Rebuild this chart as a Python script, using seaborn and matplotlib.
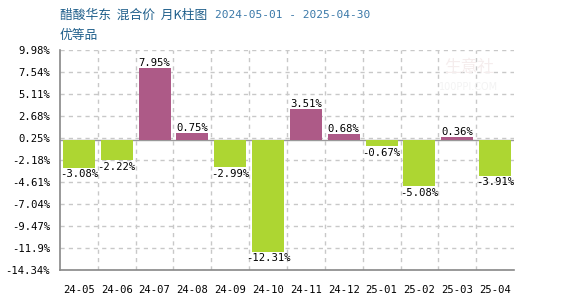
import matplotlib
matplotlib.use("Agg")
import matplotlib.pyplot as plt
import seaborn as sns
import numpy as np
from matplotlib.ticker import FixedLocator

months = ["24-05", "24-06", "24-07", "24-08", "24-09", "24-10",
          "24-11", "24-12", "25-01", "25-02", "25-03", "25-04"]
changes = [-3.08, -2.22, 7.95, 0.75, -2.99, -12.31,
           3.51, 0.68, -0.67, -5.08, 0.36, -3.91]
ytick_values = [9.98, 7.54, 5.11, 2.68, 0.25, -2.18, -4.61, -7.04, -9.47, -11.9, -14.34]
ytick_labels = ["9.98%", "7.54%", "5.11%", "2.68%", "0.25%", "-2.18%", "-4.61%",
                "-7.04%", "-9.47%", "-11.9%", "-14.34%"]
title_main = "醋酸华东  混合价  月K柱图"
title_dates = "2024-05-01 - 2025-04-30"
subtitle = "优等品"

POS = "#AD5A87"
NEG = "#ADD632"

sns.set_theme(style="white")
plt.rcParams['font.family'] = ['DejaVu Sans Mono', 'Noto Sans CJK SC']

fig = plt.figure(figsize=(5.7, 3.0), dpi=100)
ax = fig.add_axes([60/570, 30/300, (514-60)/570, 220/300])

colors = [POS if v >= 0 else NEG for v in changes]
sns.barplot(x=months, y=changes, hue=months, palette=colors, legend=False,
            width=0.85, ax=ax, saturation=1, zorder=3, linewidth=0, edgecolor="none")

ax.set_ylim(-14.34, 9.98)
ax.set_xlim(-0.5, 11.5)
ax.set_yticks(ytick_values)
ax.set_yticklabels(ytick_labels)
ax.xaxis.set_minor_locator(FixedLocator(np.arange(0.5, 11.0, 1.0)))

ax.grid(False)
ax.grid(which="major", axis="y", color="#c8c8c8", linestyle=(0, (3, 3)), linewidth=1, zorder=0)
ax.grid(which="minor", axis="x", color="#c8c8c8", linestyle=(0, (3, 3)), linewidth=1, zorder=0)
ax.set_axisbelow(True)

ax.axhline(0, color="#999999", linewidth=1, zorder=2)

for s in ["top", "right"]:
    ax.spines[s].set_visible(False)
for s in ["left", "bottom"]:
    ax.spines[s].set_color("#888888")
    ax.spines[s].set_linewidth(1.2)

ax.tick_params(axis="both", which="both", length=0, labelsize=7.6, colors="black")
ax.tick_params(axis="y", pad=7)
ax.tick_params(axis="x", pad=11)
for lbl in ax.get_xticklabels() + ax.get_yticklabels():
    lbl.set_family("DejaVu Sans Mono")

for i, v in enumerate(changes):
    if v >= 0:
        ax.text(i, v, f"{v:.2f}%", ha="center", va="bottom", fontsize=7.6,
                family="DejaVu Sans Mono", color="black", zorder=4)
    else:
        ax.text(i, v - 0.15, f"{v:.2f}%", ha="center", va="top", fontsize=7.6,
                family="DejaVu Sans Mono", color="black", zorder=4)

# watermark
ax.text(0.9, 0.92, "生意社", transform=ax.transAxes, ha="center", va="center",
        fontsize=12, color="#f5eded", family="Noto Sans CJK SC", zorder=1)
ax.text(0.9, 0.83, "100PPI.COM", transform=ax.transAxes, ha="center", va="center",
        fontsize=7, color="#f3f3f3", family="DejaVu Sans", zorder=1)

t1 = fig.text(60/570, 1 - 15/300, title_main, ha="left", va="center",
              fontsize=9.2, color="#1f5f8b", family=["Noto Sans CJK SC", "DejaVu Sans"])
fig.canvas.draw()
bb = t1.get_window_extent()
fig.text((bb.x1 + 8) / 570, 1 - 15/300, title_dates, ha="left", va="center",
         fontsize=8, color="#3a78a8", family="DejaVu Sans Mono")
fig.text(60/570, 1 - 36/300, subtitle, ha="left", va="center",
         fontsize=9.2, color="#1f5f8b", family=["Noto Sans CJK SC", "DejaVu Sans"])

fig.savefig("out.png", dpi=100)
